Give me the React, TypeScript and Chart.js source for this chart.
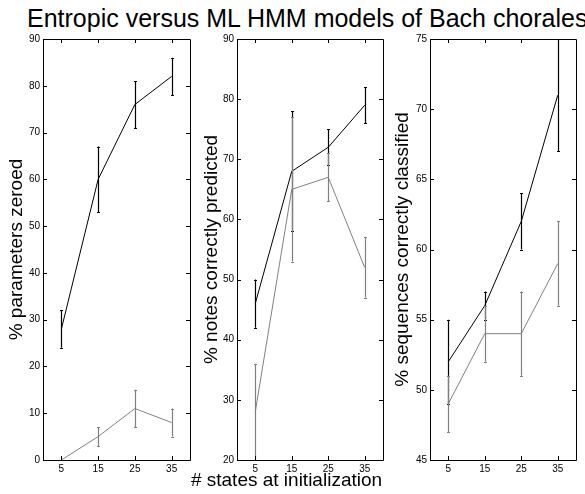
import React, { useEffect, useRef } from "react";
import { Chart, registerables } from "chart.js";

Chart.register(...registerables);

// ---- data ----
const xStates = [5, 15, 25, 35];

const zeroedEntropic = [28, 60, 76, 82];
const zeroedEntropicErr = [4, 7, 5, 4];
const zeroedML = [0, 5, 11, 8];
const zeroedMLErr = [0, 2, 4, 3];

const notesEntropic = [46, 68, 72, 79];
const notesEntropicErr = [4, 10, 3, 3];
const notesML = [28, 65, 67, 52];
const notesMLErr = [8, 12, 4, 5];

const seqEntropic = [52, 56, 62, 71];
const seqEntropicErr = [3, 1, 2, 4];
const seqML = [49, 54, 54, 59];
const seqMLErr = [2, 2, 3, 3];

const titleText = "Entropic versus ML HMM models of Bach chorales";
const xTitle = "# states at initialization";
const yTitles = [
  "% parameters zeroed",
  "% notes correctly predicted",
  "% sequences correctly classified",
];
const yMins = [0, 20, 45];
const yMaxs = [90, 90, 75];
const ySteps = [10, 10, 5];

const FONT = "'Liberation Sans', Arial, Helvetica, sans-serif";
const BLACK = "#000000";
const GREY = "#808080";

const panels = [
  { left: 0, width: 200, yWidth: 43, rightPad: 10, titlePad: 5.8, showX: false,
    series: [[zeroedEntropic, zeroedEntropicErr], [zeroedML, zeroedMLErr]] },
  { left: 190, width: 216, yWidth: 47, rightPad: 23, titlePad: 10.6, showX: true,
    series: [[notesEntropic, notesEntropicErr], [notesML, notesMLErr]] },
  { left: 390, width: 195, yWidth: 40, rightPad: 9, titlePad: 1.6, showX: false,
    series: [[seqEntropic, seqEntropicErr], [seqML, seqMLErr]] },
];

const H = 494;

const frameTicksPlugin = {
  id: "frameTicks",
  afterDraw(chart: any) {
    const { ctx, chartArea } = chart;
    const { left, right, top, bottom } = chartArea;
    const xs = chart.scales.x;
    const ys = chart.scales.y;
    const tl = 4;
    ctx.save();
    ctx.strokeStyle = BLACK;
    ctx.lineWidth = 1;
    ctx.beginPath();
    ctx.rect(Math.round(left) + 0.5, Math.round(top) + 0.5, Math.round(right - left), Math.round(bottom - top));
    ctx.stroke();
    ctx.beginPath();
    ys.ticks.forEach((t: any) => {
      const y = Math.round(ys.getPixelForValue(t.value)) + 0.5;
      ctx.moveTo(left, y);
      ctx.lineTo(left + tl, y);
      ctx.moveTo(right, y);
      ctx.lineTo(right - tl, y);
    });
    xs.ticks.forEach((t: any) => {
      const x = Math.round(xs.getPixelForValue(t.value)) + 0.5;
      ctx.moveTo(x, bottom);
      ctx.lineTo(x, bottom - tl);
      ctx.moveTo(x, top);
      ctx.lineTo(x, top + tl);
    });
    ctx.stroke();
    ctx.restore();
  },
};

function makeErrorPlugin(errs: number[][]) {
  return {
    id: "errorBars",
    afterDatasetsDraw(chart: any) {
      const { ctx, chartArea } = chart;
      const xs = chart.scales.x;
      const ys = chart.scales.y;
      ctx.save();
      ctx.beginPath();
      ctx.rect(chartArea.left, chartArea.top, chartArea.right - chartArea.left, chartArea.bottom - chartArea.top);
      ctx.clip();
      chart.data.datasets.forEach((ds: any, di: number) => {
        const e = errs[di];
        ctx.strokeStyle = ds.borderColor;
        ctx.lineWidth = 1.2;
        ctx.beginPath();
        ds.data.forEach((p: any, j: number) => {
          if (!e[j]) return;
          const x = Math.round(xs.getPixelForValue(p.x)) + 0.5;
          const y1 = ys.getPixelForValue(p.y - e[j]);
          const y2 = ys.getPixelForValue(p.y + e[j]);
          ctx.moveTo(x, y1);
          ctx.lineTo(x, y2);
          ctx.moveTo(x - 1.5, Math.round(y1) + 0.5);
          ctx.lineTo(x + 1.5, Math.round(y1) + 0.5);
          ctx.moveTo(x - 1.5, Math.round(y2) + 0.5);
          ctx.lineTo(x + 1.5, Math.round(y2) + 0.5);
        });
        ctx.stroke();
      });
      ctx.restore();
    },
  };
}

function Panel({ idx }: { idx: number }) {
  const ref = useRef<HTMLCanvasElement>(null);
  const p = panels[idx];
  useEffect(() => {
    if (!ref.current) return;
    const colors = [BLACK, GREY];
    const datasets = p.series.map(([vals], si) => ({
      data: xStates.map((x, j) => ({ x, y: vals[j] })),
      borderColor: colors[si],
      backgroundColor: colors[si],
      borderWidth: 1,
      pointRadius: 0,
      tension: 0,
      fill: false,
    }));
    const errs = p.series.map(([, e]) => e);
    // panel 2: x axis 460..490, title box 490..494 (text centred near 481 via negative top padding)
    const xAxisH = p.showX ? 30 : H - 460;
    const chart = new Chart(ref.current, {
      type: "line",
      data: { datasets },
      options: {
        animation: false,
        responsive: false,
        devicePixelRatio: 1,
        layout: { padding: { top: 39, left: 0, right: p.rightPad, bottom: 0 } },
        plugins: {
          legend: { display: false },
          tooltip: { enabled: false },
          title: {
            display: p.showX,
            text: xTitle,
            position: "bottom",
            color: BLACK,
            font: { family: FONT, size: 19, weight: "normal" },
            padding: { top: -20.4, bottom: 1.6 },
          },
        },
        scales: {
          x: {
            type: "linear",
            min: 0,
            max: 40,
            afterBuildTicks: (s: any) => {
              s.ticks = xStates.map((v) => ({ value: v }));
            },
            afterFit: (s: any) => {
              s.height = xAxisH;
            },
            grid: { display: false, drawTicks: false },
            border: { display: false },
            ticks: { color: BLACK, padding: 3, font: { family: FONT, size: 10 }, maxRotation: 0 },
          },
          y: {
            type: "linear",
            min: yMins[idx],
            max: yMaxs[idx],
            ticks: { stepSize: ySteps[idx], color: BLACK, padding: 3, font: { family: FONT, size: 10 } },
            afterFit: (s: any) => {
              s.width = p.yWidth;
            },
            grid: { display: false, drawTicks: false },
            border: { display: false },
            title: {
              display: true,
              text: yTitles[idx],
              color: BLACK,
              font: { family: FONT, size: 19 },
              padding: { top: p.titlePad, bottom: 0 },
            },
          },
        },
      },
      plugins: [makeErrorPlugin(errs), frameTicksPlugin],
    } as any);
    return () => chart.destroy();
  }, [idx]);
  return (
    <canvas
      ref={ref}
      width={p.width}
      height={H}
      style={{ position: "absolute", left: p.left, top: 0, width: p.width, height: H }}
    />
  );
}

export default function App() {
  return (
    <div
      style={{
        position: "absolute",
        left: 0,
        top: 0,
        width: 585,
        height: H,
        overflow: "hidden",
        background: "#ffffff",
      }}
    >
      <div
        style={{
          position: "absolute",
          left: 27,
          top: 5.8,
          fontFamily: FONT,
          fontSize: 25,
          lineHeight: "25px",
          whiteSpace: "nowrap",
          color: BLACK,
        }}
      >
        {titleText}
      </div>
      <Panel idx={0} />
      <Panel idx={1} />
      <Panel idx={2} />
    </div>
  );
}
